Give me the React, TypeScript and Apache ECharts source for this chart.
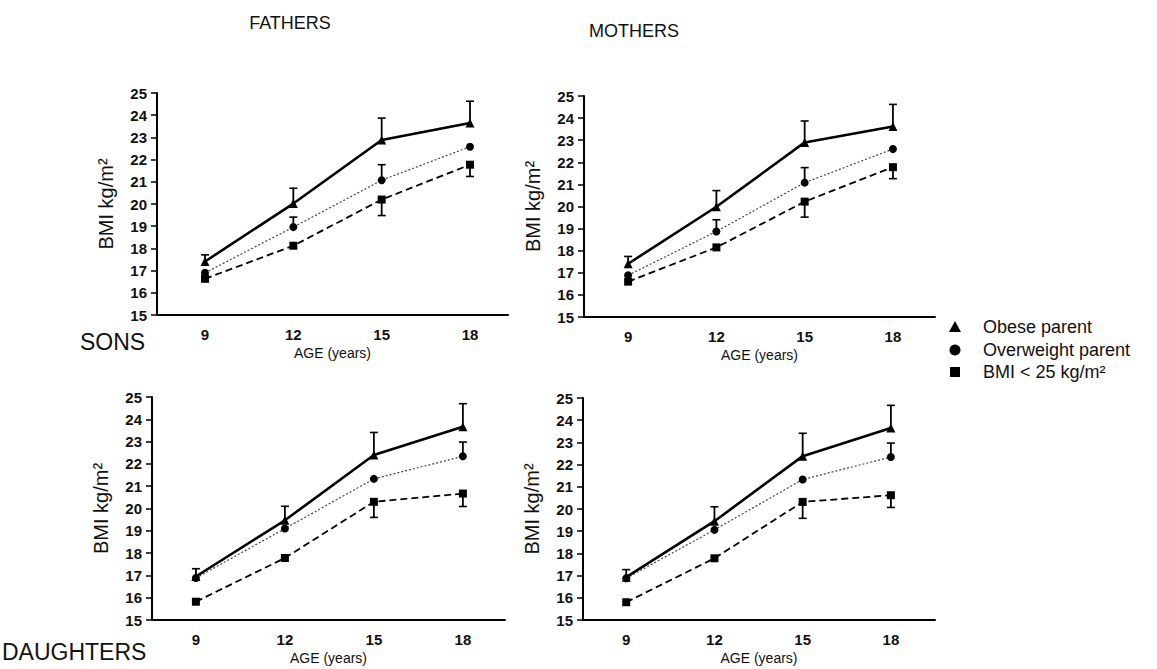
import React, { useEffect, useRef } from "react";
import * as echarts from "echarts";

const ages = [9, 12, 15, 18];
const yMin = 15;
const yMax = 25;
const seriesNames = ["Obese parent", "Overweight parent", "BMI < 25 kg/m²"];
const columnTitles = ["FATHERS", "MOTHERS"];
const rowTitles = ["SONS", "DAUGHTERS"];
const xName = "AGE (years)";
const yName = "BMI kg/m²";

// Fathers – sons
const fsObese = [17.41, 20.02, 22.88, 23.65];
const fsObeseErr = [17.71, 20.71, 23.87, 24.63];
const fsOver = [16.9, 18.96, 21.07, 22.58];
const fsOverErr = [null, 19.41, 21.77, null];
const fsLean = [16.63, 18.12, 20.2, 21.77];
const fsLeanErr = [null, null, 19.48, 21.24];

// Mothers – sons
const msObese = [17.41, 19.99, 22.9, 23.62];
const msObeseErr = [17.74, 20.72, 23.87, 24.62];
const msOver = [16.89, 18.87, 21.08, 22.6];
const msOverErr = [null, 19.4, 21.76, null];
const msLean = [16.6, 18.15, 20.22, 21.78];
const msLeanErr = [null, null, 19.52, 21.26];

// Fathers – daughters
const fdObese = [16.95, 19.47, 22.4, 23.67];
const fdObeseErr = [17.3, 20.1, 23.41, 24.7];
const fdOver = [16.88, 19.1, 21.33, 22.34];
const fdOverErr = [null, null, null, 22.98];
const fdLean = [15.82, 17.78, 20.3, 20.67];
const fdLeanErr = [null, null, 19.6, 20.09];

// Mothers – daughters
const mdObese = [16.93, 19.45, 22.38, 23.65];
const mdObeseErr = [17.27, 20.1, 23.41, 24.67];
const mdOver = [16.88, 19.06, 21.33, 22.34];
const mdOverErr = [null, null, null, 22.97];
const mdLean = [15.8, 17.78, 20.32, 20.62];
const mdLeanErr = [null, null, 19.58, 20.07];

const FONT = "'Liberation Sans', Arial, Helvetica, sans-serif";

const panels = [
  {
    grid: { left: 157, top: 93, width: 351, height: 222 },
    xMin: 7.37, xMax: 19.29,
    lines: [fsObese, fsOver, fsLean],
    errs: [fsObeseErr, fsOverErr, fsLeanErr],
  },
  {
    grid: { left: 584, top: 96, width: 351, height: 221 },
    xMin: 7.5, xMax: 19.43,
    lines: [msObese, msOver, msLean],
    errs: [msObeseErr, msOverErr, msLeanErr],
  },
  {
    grid: { left: 152, top: 397, width: 353, height: 223 },
    xMin: 7.52, xMax: 19.42,
    lines: [fdObese, fdOver, fdLean],
    errs: [fdObeseErr, fdOverErr, fdLeanErr],
  },
  {
    grid: { left: 583, top: 398, width: 352, height: 222 },
    xMin: 7.53, xMax: 19.5,
    lines: [mdObese, mdOver, mdLean],
    errs: [mdObeseErr, mdOverErr, mdLeanErr],
  },
];

const lineStyles = [
  { type: "solid", width: 2.6, color: "#000" },
  { type: [2, 2], width: 1.2, color: "#444" },
  { type: [7, 4], width: 1.8, color: "#000" },
];
const symbols = ["triangle", "circle", "rect"];
const symbolSizes = [9, 8, 8];

function buildOption() {
  const grid: any[] = [];
  const xAxis: any[] = [];
  const yAxis: any[] = [];
  const series: any[] = [];

  panels.forEach((p, i) => {
    grid.push({ ...p.grid, containLabel: false });
    xAxis.push({
      type: "value",
      gridIndex: i,
      min: p.xMin,
      max: p.xMax,
      name: xName,
      nameLocation: "middle",
      nameGap: 31,
      nameTextStyle: { fontFamily: FONT, fontSize: 14, color: "#111" },
      axisLine: { lineStyle: { color: "#000", width: 2 } },
      axisTick: { show: false },
      splitLine: { show: false },
      axisLabel: {
        customValues: ages,
        margin: 12,
        fontFamily: FONT,
        fontSize: 15,
        fontWeight: "bold",
        color: "#111",
      },
    });
    yAxis.push({
      type: "value",
      gridIndex: i,
      min: yMin,
      max: yMax,
      interval: 1,
      name: yName,
      nameLocation: "middle",
      nameRotate: 90,
      nameGap: 41,
      nameTextStyle: { fontFamily: FONT, fontSize: 20, color: "#111" },
      axisLine: { show: true, lineStyle: { color: "#000", width: 2 } },
      axisTick: { show: true, length: 6, lineStyle: { color: "#000", width: 1.5 } },
      splitLine: { show: false },
      axisLabel: {
        margin: 10,
        fontFamily: FONT,
        fontSize: 15,
        fontWeight: "bold",
        color: "#111",
      },
    });

    p.lines.forEach((vals, s) => {
      series.push({
        type: "line",
        name: seriesNames[s],
        xAxisIndex: i,
        yAxisIndex: i,
        data: ages.map((a, k) => [a, vals[k]]),
        symbol: symbols[s],
        symbolSize: symbolSizes[s],
        itemStyle: { color: "#000" },
        lineStyle: lineStyles[s],
        z: 3 - s,
      });
      const errData: any[] = [];
      ages.forEach((a, k) => {
        const b = p.errs[s][k];
        if (b !== null && b !== undefined) errData.push([a, vals[k], b]);
      });
      series.push({
        type: "custom",
        name: seriesNames[s] + " error",
        xAxisIndex: i,
        yAxisIndex: i,
        data: errData,
        encode: { x: 0, y: [1, 2] },
        z: 4,
        renderItem: (params: any, api: any) => {
          const x = api.value(0);
          const m = api.value(1);
          const b = api.value(2);
          const p1 = api.coord([x, m]);
          const p2 = api.coord([x, b]);
          const hw = 4;
          return {
            type: "group",
            children: [
              {
                type: "line",
                shape: { x1: p1[0], y1: p1[1], x2: p2[0], y2: p2[1] },
                style: { stroke: "#000", lineWidth: 1.8 },
              },
              {
                type: "line",
                shape: { x1: p2[0] - hw, y1: p2[1], x2: p2[0] + hw, y2: p2[1] },
                style: { stroke: "#000", lineWidth: 1.6 },
              },
            ],
          };
        },
      });
    });
  });

  const textStyle = (text: string, size: number, align: string) => ({
    text,
    fontFamily: FONT,
    fontSize: size,
    fill: "#111",
    align,
    verticalAlign: "middle",
  });

  const graphic: any[] = [
    { type: "text", x: 290, y: 23, style: textStyle(columnTitles[0], 18, "center") },
    { type: "text", x: 634, y: 31, style: textStyle(columnTitles[1], 18, "center") },
    { type: "text", x: 80, y: 342, style: textStyle(rowTitles[0], 23, "left") },
    { type: "text", x: 2, y: 652, style: textStyle(rowTitles[1], 23, "left") },
    // legend
    {
      type: "polygon",
      shape: { points: [[949, 332], [961, 332], [955, 321]] },
      style: { fill: "#000" },
    },
    { type: "circle", shape: { cx: 955, cy: 350, r: 5.5 }, style: { fill: "#000" } },
    { type: "rect", shape: { x: 950, y: 367, width: 10, height: 10 }, style: { fill: "#000" } },
    { type: "text", x: 983, y: 327, style: textStyle(seriesNames[0], 18, "left") },
    { type: "text", x: 983, y: 350, style: textStyle(seriesNames[1], 18, "left") },
    { type: "text", x: 983, y: 372, style: textStyle(seriesNames[2], 18, "left") },
  ];

  return {
    animation: false,
    backgroundColor: "#fff",
    textStyle: { fontFamily: FONT },
    grid,
    xAxis,
    yAxis,
    series,
    graphic,
  };
}

export default function App() {
  const ref = useRef<HTMLDivElement>(null);
  useEffect(() => {
    document.body.style.margin = "0";
    if (!ref.current) return;
    const chart = echarts.init(ref.current, null, { renderer: "svg" });
    chart.setOption(buildOption() as any);
    return () => chart.dispose();
  }, []);
  return <div ref={ref} style={{ width: 1157, height: 669 }} />;
}
